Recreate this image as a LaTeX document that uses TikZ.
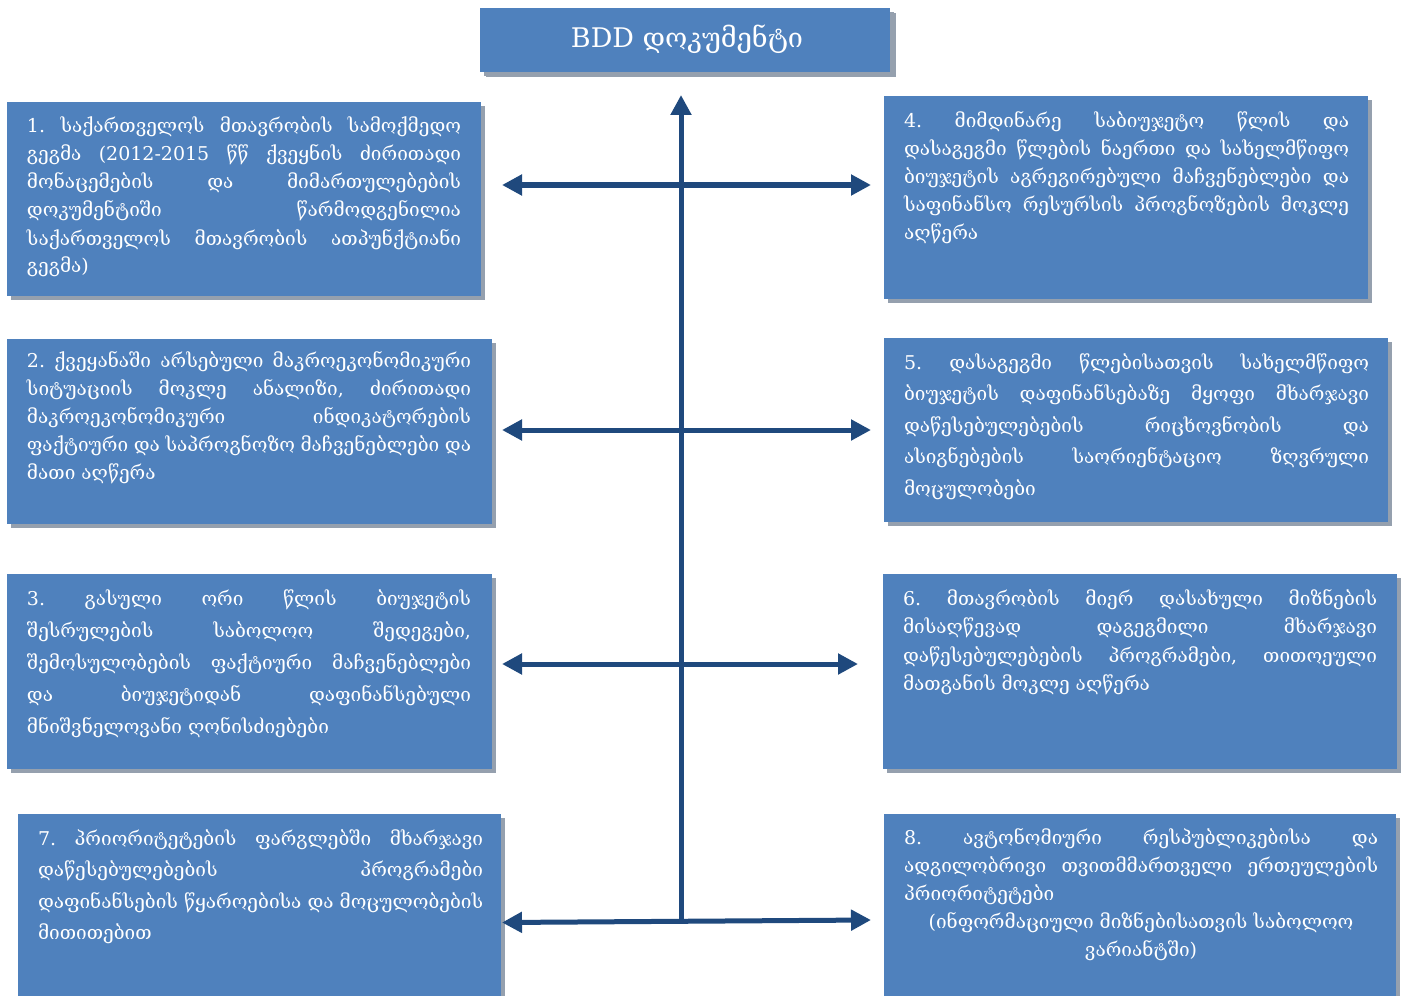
\documentclass[tikz,border=0pt]{standalone}
\usepackage{fontspec}
\usetikzlibrary{arrows.meta,shadows}
\newfontfamily\geo{DejaVu Serif}
\definecolor{boxblue}{HTML}{4F81BD}
\definecolor{shadowgray}{HTML}{95A0AE}
\definecolor{arrowblue}{HTML}{1F497D}
\newcommand\jl[1]{\hbox to\hsize{\spaceskip=0.3em plus 1fill minus 0.12em\relax #1}}
\newcommand\lastl[1]{\hbox to\hsize{#1\hfil}}
\newcommand\cenl[1]{\hbox to\hsize{\hfil#1\hfil}}
\newcommand\gblock[3]{\vtop{\hsize=#1pt\baselineskip=#2pt\lineskiplimit=-100pt\lineskip=0pt\frenchspacing #3}}
\tikzset{
  box/.style={fill=boxblue, inner sep=0pt, outer sep=0pt, anchor=north west,
    drop shadow={shadow xshift=4pt, shadow yshift=-4pt, fill=shadowgray, opacity=1}},
  txt/.style={inner sep=0pt, outer sep=0pt, anchor=base west, text=white,
    font=\geo\fontsize{19}{28}\selectfont},
  link/.style={draw=arrowblue, line width=5pt,
    {Triangle[length=20pt,width=20pt]}-{Triangle[length=20pt,width=20pt]}},
  uplink/.style={draw=arrowblue, line width=5pt, -{Triangle[length=20pt,width=20pt]}}
}
\begin{document}
\begin{tikzpicture}[x=1pt,y=-1pt]
\useasboundingbox (0,0) rectangle (1404,995);
% title
\node[box, minimum width=410pt, minimum height=64pt,
  drop shadow={shadow xshift=6pt, shadow yshift=-5pt, fill=shadowgray, opacity=1}] (title) at (480,8) {};
\node[text=white, font=\geo\fontsize{27}{30}\selectfont, anchor=base] (titletext) at (687,48) {BDD დოკუმენტი};
% boxes
\node[box, minimum width=474pt, minimum height=194pt] (b1) at (7,102) {};
\node[box, minimum width=484pt, minimum height=203pt] (b4) at (884,96) {};
\node[box, minimum width=485pt, minimum height=185pt] (b2) at (7,339) {};
\node[box, minimum width=504pt, minimum height=184pt] (b5) at (884,338) {};
\node[box, minimum width=485pt, minimum height=195pt] (b3) at (7,574) {};
\node[box, minimum width=514pt, minimum height=195pt] (b6) at (883,574) {};
\node[box, minimum width=483pt, minimum height=190pt] (b7) at (18,814) {};
\node[box, minimum width=512pt, minimum height=190pt] (b8) at (884,814) {};
% texts
\node[txt] (t1) at (27,133) {\gblock{434}{28}{%
\jl{1. საქართველოს მთავრობის სამოქმედო}
\jl{გეგმა (2012-2015 წწ ქვეყნის ძირითადი}
\jl{მონაცემების და მიმართულებების}
\jl{დოკუმენტიში წარმოდგენილია}
\jl{საქართველოს მთავრობის ათპუნქტიანი}
\lastl{გეგმა)}}};
\node[txt] (t4) at (904,128) {\gblock{445}{28}{%
\jl{4. მიმდინარე საბიუჯეტო წლის და}
\jl{დასაგეგმი წლების ნაერთი და სახელმწიფო}
\jl{ბიუჯეტის აგრეგირებული მაჩვენებლები და}
\jl{საფინანსო რესურსის პროგნოზების მოკლე}
\lastl{აღწერა}}};
\node[txt] (t2) at (27,367) {\gblock{444}{28}{%
\jl{2. ქვეყანაში არსებული მაკროეკონომიკური}
\jl{სიტუაციის მოკლე ანალიზი, ძირითადი}
\jl{მაკროეკონომიკური ინდიკატორების}
\jl{ფაქტიური და საპროგნოზო მაჩვენებლები და}
\lastl{მათი აღწერა}}};
\node[txt] (t5) at (904,369) {\gblock{465}{31.5}{%
\jl{5. დასაგეგმი წლებისათვის სახელმწიფო}
\jl{ბიუჯეტის დაფინანსებაზე მყოფი მხარჯავი}
\jl{დაწესებულებების რიცხოვნობის და}
\jl{ასიგნებების საორიენტაციო ზღვრული}
\lastl{მოცულობები}}};
\node[txt] (t3) at (27,605) {\gblock{444}{32}{%
\jl{3. გასული ორი წლის ბიუჯეტის}
\jl{შესრულების საბოლოო შედეგები,}
\jl{შემოსულობების ფაქტიური მაჩვენებლები}
\jl{და ბიუჯეტიდან დაფინანსებული}
\lastl{მნიშვნელოვანი ღონისძიებები}}};
\node[txt] (t6) at (903,605) {\gblock{474}{28.5}{%
\jl{6. მთავრობის მიერ დასახული მიზნების}
\jl{მისაღწევად დაგეგმილი მხარჯავი}
\jl{დაწესებულებების პროგრამები, თითოეული}
\lastl{მათგანის მოკლე აღწერა}}};
\node[txt] (t7) at (38,845) {\gblock{445}{31.5}{%
\jl{7. პრიორიტეტების ფარგლებში მხარჯავი}
\jl{დაწესებულებების პროგრამები}
\jl{დაფინანსების წყაროებისა და მოცულობების}
\lastl{მითითებით}}};
\node[txt] (t8) at (904,844) {\gblock{474}{28}{%
\jl{8. ავტონომიური რესპუბლიკებისა და}
\jl{ადგილობრივი თვითმმართველი ერთეულების}
\lastl{პრიორიტეტები}
\cenl{(ინფორმაციული მიზნებისათვის საბოლოო}
\cenl{ვარიანტში)}}};
% connectors
\coordinate (vbot) at (681,922);
\coordinate (vtop) at (681,95);
\coordinate (l1) at (502,185); \coordinate (r1) at (871,185);
\coordinate (l2) at (502,430); \coordinate (r2) at (871,430);
\coordinate (l3) at (502,664); \coordinate (r3) at (858,664);
\coordinate (l4) at (502,922.5); \coordinate (r4) at (871,920);
\draw[uplink] (vbot) -- (vtop);
\draw[link] (l1) -- (r1);
\draw[link] (l2) -- (r2);
\draw[link] (l3) -- (r3);
\draw[link] (l4) -- (r4);
\end{tikzpicture}
\end{document}
